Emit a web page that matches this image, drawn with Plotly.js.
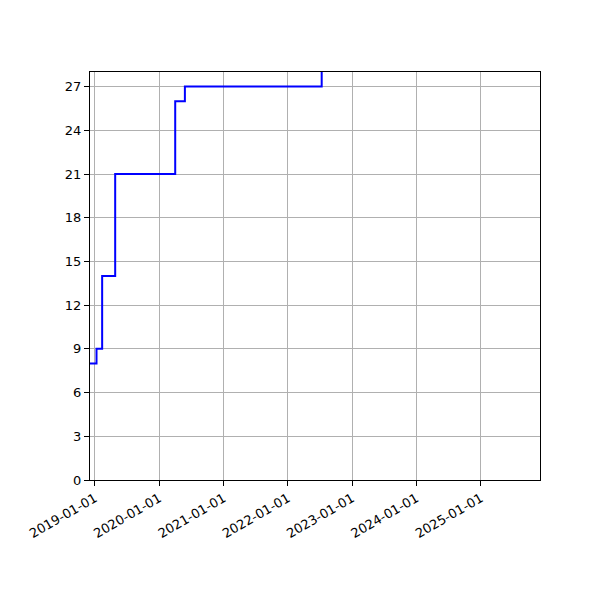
<!DOCTYPE html>
<html>
<head>
<meta charset="utf-8">
<script src="https://cdn.plot.ly/plotly-3.0.1.min.js"></script>
<style>
  html, body { margin: 0; padding: 0; background: #fff; }
  #chart { width: 600px; height: 600px; }
</style>
</head>
<body>
<div id="chart"></div>
<script>
// step points (value changes at each date)
const dates = ["2018-12-04", "2019-01-10", "2019-02-11", "2019-04-26", "2020-04-01", "2020-05-26", "2022-07-12"];
const values = [8, 9, 14, 21, 26, 27, 35];

const yearTicks = ["2019-01-01", "2020-01-01", "2021-01-01", "2022-01-01", "2023-01-01", "2024-01-01", "2025-01-01"];
const yTicks = [0, 3, 6, 9, 12, 15, 18, 21, 24, 27];

const axisCommon = {
  showline: true,
  linecolor: "#000",
  linewidth: 1,
  mirror: true,
  ticks: "outside",
  ticklen: 5,
  tickwidth: 1,
  tickcolor: "#000",
  showgrid: true,
  gridcolor: "#b0b0b0",
  gridwidth: 1,
  zeroline: false,
  tickfont: { family: "DejaVu Sans", size: 13, color: "#000" },
};

const steps = {
  x: dates,
  y: values,
  type: "scatter",
  mode: "lines",
  line: { color: "#0000ff", width: 2, shape: "hv" },
  hoverinfo: "skip",
};

const layout = {
  width: 600,
  height: 600,
  margin: { l: 90, r: 60, t: 72, b: 120 },
  paper_bgcolor: "#fff",
  plot_bgcolor: "#fff",
  showlegend: false,
  xaxis: Object.assign({}, axisCommon, {
    type: "date",
    range: ["2018-12-04", "2025-12-03"],
    tickmode: "array",
    tickvals: yearTicks,
    ticktext: yearTicks,
    tickangle: -30,
  }),
  yaxis: Object.assign({}, axisCommon, {
    range: [0, 28],
    tickmode: "array",
    tickvals: yTicks,
  }),
};

Plotly.newPlot("chart", [steps], layout, { displayModeBar: false, staticPlot: true });
</script>
</body>
</html>
